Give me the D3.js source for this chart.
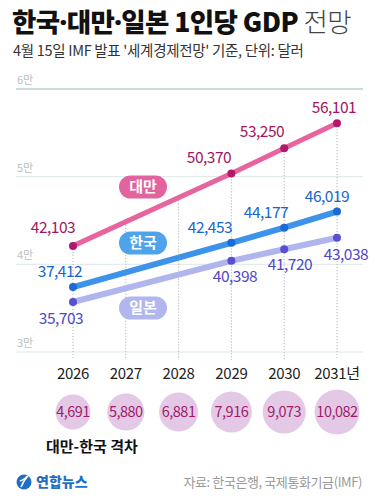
<!DOCTYPE html>
<html>
<head>
<meta charset="utf-8">
<script src="https://cdn.jsdelivr.net/npm/d3@7"></script>
<style>
  body { margin: 0; background: #fff; }
  svg { display: block; font-family: "Noto Sans CJK KR", "Noto Sans", sans-serif; }
</style>
</head>
<body>
<div id="chart"></div>
<script>
// Data
const years = [2026, 2027, 2028, 2029, 2030, 2031];
const yearLabels = ["2026", "2027", "2028", "2029", "2030", "2031년"];
const pointYears = [2026, 2029, 2030, 2031];
const taiwan = [42103, 50370, 53250, 56101];
const korea = [37412, 42453, 44177, 46019];
const japan = [35703, 40398, 41720, 43038];
const gaps = [4691, 5880, 6881, 7916, 9073, 10082];
const gridValues = [60000, 50000, 40000, 30000];
const gridLabels = ["6만", "5만", "4만", "3만"];

const width = 375, height = 504;

const svg = d3.select("#chart").append("svg")
  .attr("width", width)
  .attr("height", height);

// Scales
const x = d3.scalePoint().domain(years).range([73, 337]);
const y = d3.scaleLinear().domain([30000, 60000]).range([352, 89]);
const r = d3.scaleLinear().domain([d3.min(gaps), d3.max(gaps)]).range([17.5, 22.5]);

// Title
const title = svg.append("text")
  .attr("x", 12)
  .attr("y", 32)
  .style("font-size", "26.5px")
  .style("letter-spacing", "-0.6px");
title.append("tspan").attr("font-weight", 900).attr("fill", "#111").text("한국");
title.append("tspan").attr("font-weight", 900).attr("fill", "#111").attr("font-family", "Noto Sans").text("·");
title.append("tspan").attr("font-weight", 900).attr("fill", "#111").text("대만");
title.append("tspan").attr("font-weight", 900).attr("fill", "#111").attr("font-family", "Noto Sans").text("·");
title.append("tspan").attr("font-weight", 900).attr("fill", "#111").text("일본 1인당 GDP ");
title.append("tspan").attr("font-weight", 300).attr("fill", "#444").text("전망");

svg.append("text")
  .attr("x", 13)
  .attr("y", 56)
  .style("font-size", "14.5px")
  .style("letter-spacing", "-0.3px")
  .attr("fill", "#333")
  .text("4월 15일 IMF 발표 '세계경제전망' 기준, 단위: 달러");

// Gridlines
const grid = svg.append("g");
grid.selectAll("line")
  .data(gridValues)
  .enter().append("line")
  .attr("x1", 16).attr("x2", 363)
  .attr("y1", d => y(d)).attr("y2", d => y(d))
  .attr("stroke", (d, i) => i === 0 ? "#bfd0d0" : "#dde8e8")
  .attr("stroke-width", (d, i) => i === 0 ? 1.5 : 1);
grid.selectAll("text")
  .data(gridValues)
  .enter().append("text")
  .attr("x", 17)
  .attr("y", d => y(d) - 5)
  .style("font-size", "11px")
  .attr("fill", "#b8c0c0")
  .text((d, i) => gridLabels[i]);

// Vertical dotted guides, from the top line down
function topAt(yr) {
  const i = d3.bisectLeft(pointYears, yr);
  if (pointYears[i] === yr) return y(taiwan[i]);
  const t = (yr - pointYears[i - 1]) / (pointYears[i] - pointYears[i - 1]);
  return y(taiwan[i - 1]) + t * (y(taiwan[i]) - y(taiwan[i - 1]));
}
svg.append("g").selectAll("line")
  .data(years)
  .enter().append("line")
  .attr("x1", d => x(d)).attr("x2", d => x(d))
  .attr("y1", d => topAt(d)).attr("y2", 360)
  .attr("stroke", "#9aa")
  .attr("stroke-width", 1)
  .attr("stroke-dasharray", "1,2");

// Series
const series = [
  { name: "대만", values: taiwan, line: "#e8649f", dot: "#b3186c", text: "#a3165f", width: 5,
    pill: "#e2649f", pillY: 187,
    labels: [[53, 233], [209, 163], [262, 137], [334, 113]] },
  { name: "한국", values: korea, line: "#3d92ea", dot: "#1a6ad8", text: "#1766cf", width: 6,
    pill: "#4ea3ea", pillY: 243,
    labels: [[60, 277], [210, 233], [266, 218], [327, 202]] },
  { name: "일본", values: japan, line: "#b1b5ee", dot: "#5a4ed2", text: "#5147c6", width: 6,
    pill: "#b2b6ee", pillY: 308,
    labels: [[61, 324], [235, 282], [290, 270], [346, 260]] }
];

const line = d3.line()
  .x((d, i) => x(pointYears[i]))
  .y(d => y(d));

series.slice().reverse().forEach(s => {
  const g = svg.append("g");
  g.append("path")
    .datum(s.values)
    .attr("d", line)
    .attr("fill", "none")
    .attr("stroke", s.line)
    .attr("stroke-width", s.width)
    .attr("stroke-linecap", "round");
  g.selectAll("circle")
    .data(s.values)
    .enter().append("circle")
    .attr("cx", (d, i) => x(pointYears[i]))
    .attr("cy", d => y(d))
    .attr("r", 4)
    .attr("fill", s.dot);
  g.selectAll("text.val")
    .data(s.values)
    .enter().append("text")
    .attr("class", "val")
    .attr("x", (d, i) => s.labels[i][0])
    .attr("y", (d, i) => s.labels[i][1])
    .attr("text-anchor", "middle")
    .style("font-size", "15.5px")
    .style("letter-spacing", "-0.5px")
    .attr("fill", s.text)
    .text(d => d3.format(",")(d));

  // Name pill
  g.append("rect")
    .attr("x", 119).attr("y", s.pillY - 11.5)
    .attr("width", 48).attr("height", 23)
    .attr("rx", 11.5)
    .attr("fill", s.pill);
  g.append("text")
    .attr("x", 143).attr("y", s.pillY + 5)
    .attr("text-anchor", "middle")
    .style("font-size", "15px")
    .attr("font-weight", 700)
    .attr("fill", "#fff")
    .text(s.name);
});

// Year labels
svg.append("g").selectAll("text")
  .data(years)
  .enter().append("text")
  .attr("x", d => x(d))
  .attr("y", 379)
  .attr("text-anchor", "middle")
  .style("font-size", "15px")
  .style("letter-spacing", "-0.3px")
  .attr("fill", "#222")
  .text((d, i) => yearLabels[i]);

// Gap bubbles
const gapG = svg.append("g");
gapG.selectAll("circle")
  .data(gaps)
  .enter().append("circle")
  .attr("cx", (d, i) => x(years[i]))
  .attr("cy", 412)
  .attr("r", d => r(d))
  .attr("fill", "#e3c9e5");
gapG.selectAll("text")
  .data(gaps)
  .enter().append("text")
  .attr("x", (d, i) => x(years[i]))
  .attr("y", 417)
  .attr("text-anchor", "middle")
  .style("font-size", "14.5px")
  .style("letter-spacing", "-0.5px")
  .attr("fill", "#a01a68")
  .text(d => d3.format(",")(d));

svg.append("text")
  .attr("x", 46)
  .attr("y", 452)
  .style("font-size", "15px")
  .attr("font-weight", 700)
  .attr("fill", "#111")
  .text("대만-한국 격차");

// Footer: logo and source
const logo = svg.append("g").attr("transform", "translate(24,482)");
logo.append("circle").attr("r", 7.5).attr("fill", "#1f6fc4");
logo.append("path")
  .attr("d", "M-3,5 C-1,0 1,-3 4,-6 M-4,-1 C-1,-2 2,-4 3,-6")
  .attr("fill", "none")
  .attr("stroke", "#fff")
  .attr("stroke-width", 1.6);
svg.append("text")
  .attr("x", 36)
  .attr("y", 487)
  .style("font-size", "14px")
  .attr("font-weight", 900)
  .attr("fill", "#1f6fc4")
  .text("연합뉴스");

svg.append("text")
  .attr("x", 362)
  .attr("y", 487)
  .attr("text-anchor", "end")
  .style("font-size", "13px")
  .style("letter-spacing", "-0.4px")
  .attr("fill", "#999")
  .text("자료: 한국은행, 국제통화기금(IMF)");
</script>
</body>
</html>
